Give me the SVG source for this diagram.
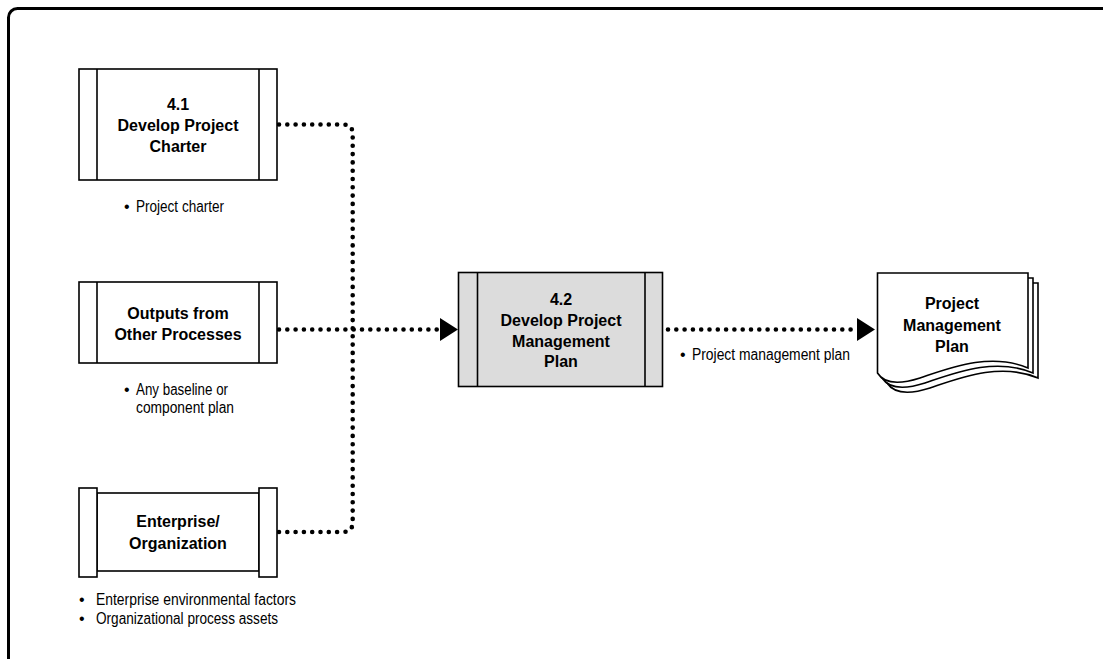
<svg xmlns="http://www.w3.org/2000/svg" width="1103" height="659" viewBox="0 0 1103 659">
<style>
.frame{fill:none;stroke:#000;stroke-width:3}
.box{fill:#fff;stroke:#000;stroke-width:1.6}
.gbox{fill:#dcdcdc;stroke:#000;stroke-width:1.6}
.dot{fill:none;stroke:#000;stroke-width:4.6;stroke-linecap:round;stroke-dasharray:0 8.3}
.t{font-family:"Liberation Sans",Arial,sans-serif;font-weight:bold;font-size:16px;text-anchor:middle;fill:#000}
.s{font-family:"Liberation Sans",Arial,sans-serif;font-size:16px;fill:#000}
.doc{fill:#fff;stroke:#000;stroke-width:1.6}
</style>
<rect class="frame" x="8.5" y="8.5" width="1200" height="800" rx="9"/>
<g id="connectors">
<path class="dot" d="M279,124.5 H343 Q352.7,124.5 352.7,134 V329"/>
<path class="dot" d="M279,532 H343 Q352.7,532 352.7,522 V329"/>
<path class="dot" d="M279,329.5 H438"/>
<polygon points="440,318 458,329.5 440,341" fill="#000"/>
<path class="dot" d="M668,329.5 H853"/>
<polygon points="857,318 875,329.5 857,341" fill="#000"/>
</g>
<g id="n41">
<rect class="box" x="79" y="69" width="198" height="111"/>
<line x1="97" y1="69" x2="97" y2="180" stroke="#000" stroke-width="1.6"/>
<line x1="259" y1="69" x2="259" y2="180" stroke="#000" stroke-width="1.6"/>
<text class="t" x="178" y="110">4.1</text>
<text class="t" x="178" y="131">Develop Project</text>
<text class="t" x="178" y="152">Charter</text>
<text class="s" x="124" y="212">•</text>
<text class="s" x="136" y="212" textLength="88" lengthAdjust="spacingAndGlyphs">Project charter</text>
</g>
<g id="outputs">
<rect class="box" x="79" y="282" width="198" height="81"/>
<line x1="97" y1="282" x2="97" y2="363" stroke="#000" stroke-width="1.6"/>
<line x1="259" y1="282" x2="259" y2="363" stroke="#000" stroke-width="1.6"/>
<text class="t" x="178" y="319">Outputs from</text>
<text class="t" x="178" y="340">Other Processes</text>
<text class="s" x="124" y="395">•</text>
<text class="s" x="136" y="395" textLength="92" lengthAdjust="spacingAndGlyphs">Any baseline or</text>
<text class="s" x="136" y="413" textLength="98" lengthAdjust="spacingAndGlyphs">component plan</text>
</g>
<g id="enterprise">
<rect class="box" x="97" y="493" width="162" height="78"/>
<rect class="box" x="79" y="488" width="18" height="89"/>
<rect class="box" x="259" y="488" width="18" height="89"/>
<text class="t" x="178" y="527">Enterprise/</text>
<text class="t" x="178" y="549">Organization</text>
<text class="s" x="79" y="605">•</text>
<text class="s" x="96" y="605" textLength="200" lengthAdjust="spacingAndGlyphs">Enterprise environmental factors</text>
<text class="s" x="79" y="624">•</text>
<text class="s" x="96" y="624" textLength="182" lengthAdjust="spacingAndGlyphs">Organizational process assets</text>
</g>
<g id="n42">
<rect class="gbox" x="458.5" y="272.5" width="204" height="114"/>
<line x1="477.5" y1="272.5" x2="477.5" y2="386.5" stroke="#000" stroke-width="1.6"/>
<line x1="645" y1="272.5" x2="645" y2="386.5" stroke="#000" stroke-width="1.6"/>
<text class="t" x="561" y="305">4.2</text>
<text class="t" x="561" y="326">Develop Project</text>
<text class="t" x="561" y="347">Management</text>
<text class="t" x="561" y="367">Plan</text>
<text class="s" x="680" y="360">•</text>
<text class="s" x="692" y="360" textLength="158" lengthAdjust="spacingAndGlyphs">Project management plan</text>
</g>
<g id="pmp">
<path class="doc" d="M887,283 H1038 V378 C1000,362 960,378 930,388 C905,396 893,392 887,383 Z"/>
<path class="doc" d="M882,278 H1033 V373 C995,357 955,373 925,383 C900,391 888,387 882,378 Z"/>
<path class="doc" d="M877.5,273 H1028 V368 C990,352 950,368 920,378 C895,386 883,382 877.5,373 Z"/>
<text class="t" x="952" y="309">Project</text>
<text class="t" x="952" y="331">Management</text>
<text class="t" x="952" y="352">Plan</text>
</g>
</svg>
